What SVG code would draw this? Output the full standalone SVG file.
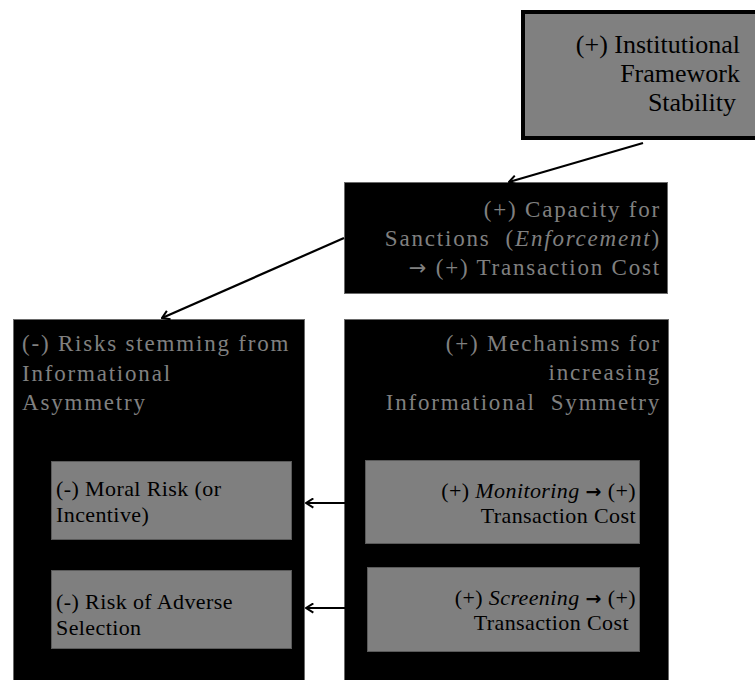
<svg xmlns="http://www.w3.org/2000/svg" width="755" height="680" viewBox="0 0 755 680">
<defs>
<style>
.dark{fill:#000;stroke:#6a6a6a;stroke-width:1}
.gbox{fill:#7f7f7f;stroke:#5a5a5a;stroke-width:1}
.t{font-family:"Liberation Serif","Times New Roman",serif}
.gt{font-family:"Liberation Serif","Times New Roman",serif;fill:#808080;font-size:23px;letter-spacing:1.8px;white-space:pre}
.bt{font-family:"Liberation Serif","Times New Roman",serif;fill:#000;font-size:22px;letter-spacing:0.4px;white-space:pre}
.r{text-anchor:end}
.ar{font-family:"DejaVu Sans",sans-serif}
.conn{stroke:#000;stroke-width:2.2;fill:none;marker-end:url(#ah)}
</style>
<marker id="ah" viewBox="0 0 12 12" refX="11" refY="6" markerWidth="11" markerHeight="11" markerUnits="userSpaceOnUse" orient="auto">
<polyline points="3,1 11,6 3,11" fill="none" stroke="#000" stroke-width="2.2"/>
</marker>
</defs>
<rect width="755" height="680" fill="#fff"/>

<g id="n-institutional">
<rect x="523" y="12" width="240" height="126" fill="#808080" stroke="#000" stroke-width="4"/>
<text class="t r" font-size="26" fill="#000"><tspan x="740" y="53">(+) Institutional</tspan><tspan x="740" y="82">Framework</tspan><tspan x="736" y="111">Stability</tspan></text>
</g>

<g id="n-sanctions">
<rect class="dark" x="344.5" y="182.5" width="323" height="111"/>
<text class="gt r"><tspan x="661" y="217">(+) Capacity for</tspan><tspan x="661" y="246">Sanctions  (<tspan font-style="italic">Enforcement</tspan>)</tspan><tspan x="661" y="275"><tspan class="ar" font-size="21">→</tspan> (+) Transaction Cost</tspan></text>
</g>

<g id="n-risks">
<rect class="dark" x="13.5" y="319.5" width="291" height="370"/>
<text class="gt"><tspan x="22" y="351">(-) Risks stemming from</tspan><tspan x="22" y="381">Informational</tspan><tspan x="22" y="410">Asymmetry</tspan></text>
</g>

<g id="n-moral">
<rect class="gbox" x="51.5" y="461.5" width="240" height="78"/>
<text class="bt"><tspan x="56" y="496">(-) Moral Risk (or</tspan><tspan x="56" y="522">Incentive)</tspan></text>
</g>

<g id="n-adverse">
<rect class="gbox" x="51.5" y="570.5" width="240" height="78"/>
<text class="bt"><tspan x="56" y="609">(-) Risk of Adverse</tspan><tspan x="56" y="635">Selection</tspan></text>
</g>

<g id="n-mechanisms">
<rect class="dark" x="344.5" y="319.5" width="324" height="370"/>
<text class="gt r"><tspan x="661" y="351">(+) Mechanisms for</tspan><tspan x="661" y="380">increasing</tspan><tspan x="661" y="410">Informational  Symmetry</tspan></text>
</g>

<g id="n-monitoring">
<rect class="gbox" x="365.5" y="460.5" width="274" height="83"/>
<text class="bt r"><tspan x="636" y="498">(+) <tspan font-style="italic">Monitoring</tspan> <tspan class="ar" font-weight="bold" font-size="19">→</tspan> (+)</tspan><tspan x="636" y="523">Transaction Cost</tspan></text>
</g>

<g id="n-screening">
<rect class="gbox" x="367.5" y="567.5" width="272" height="84"/>
<text class="bt r"><tspan x="636" y="605">(+) <tspan font-style="italic">Screening</tspan> <tspan class="ar" font-weight="bold" font-size="19">→</tspan> (+)</tspan><tspan x="629" y="630">Transaction Cost</tspan></text>
</g>

<g id="connectors">
<line class="conn" x1="643" y1="143" x2="509" y2="182"/>
<line class="conn" x1="344" y1="238" x2="162" y2="318"/>
<line class="conn" x1="345" y1="503" x2="306" y2="503"/>
<line class="conn" x1="345" y1="608" x2="306" y2="608"/>
</g>
</svg>
